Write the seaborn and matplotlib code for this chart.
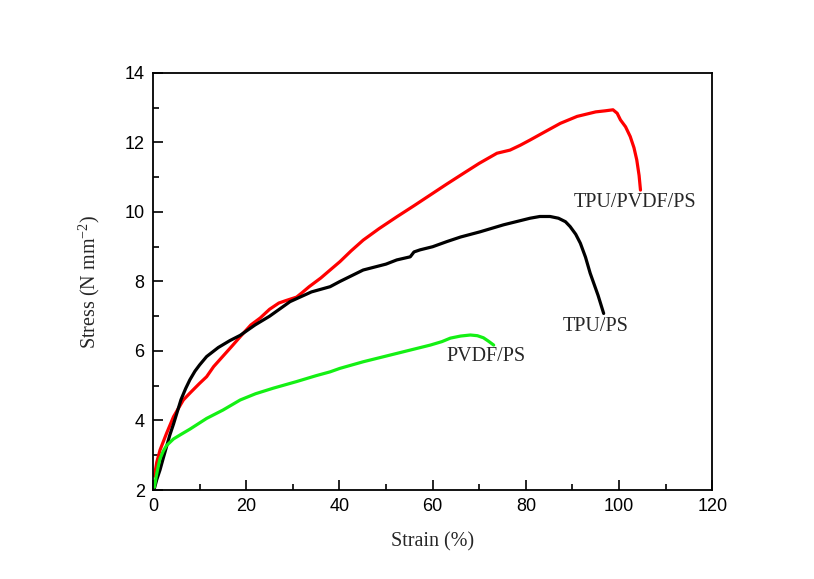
import matplotlib
matplotlib.use("Agg")
import matplotlib.pyplot as plt
from matplotlib.ticker import MultipleLocator
import seaborn as sns
import pandas as pd

# Strain (%) / Stress (N mm^-2)
red_x = [0.3, 0.8, 1.5, 2.9, 4.4, 6.5, 8, 10, 11.5, 13, 15, 17, 18.7, 21, 23, 25, 27, 28.5, 30.8, 32, 33.5, 36, 38,
         40.1, 42.5, 45.1, 48.5, 52.3, 56, 59.5, 63, 66.6, 70, 73.8, 76.6, 78.8, 80.9, 84, 87.4, 91, 95, 97, 98.7,
         99.6, 100.3, 101.4, 102.4, 103.2, 103.8, 104.3, 104.6]
red_y = [2.4, 2.8, 3.15, 3.63, 4.11, 4.59, 4.8, 5.07, 5.26, 5.55, 5.85, 6.15, 6.41, 6.75, 6.95, 7.2, 7.38, 7.45, 7.55,
         7.68, 7.85, 8.1, 8.33, 8.57, 8.88, 9.19, 9.52, 9.86, 10.18, 10.49, 10.8, 11.11, 11.4, 11.69, 11.78, 11.92,
         12.07, 12.3, 12.55, 12.75, 12.88, 12.91, 12.94, 12.84, 12.65, 12.45, 12.17, 11.85, 11.5, 11.05, 10.63]

black_x = [0.3, 0.8, 1.5, 2.2, 2.9, 3.6, 4.4, 5.2, 6, 7, 7.9, 9, 10, 11.5, 14, 16.5, 18.7, 21.9, 25, 29.4, 34, 38,
           40.1, 45.1, 50, 52.3, 55.2, 56, 57.3, 60, 63.1, 66, 70.2, 75.2, 80.9, 83, 85.2, 87, 88.5, 89.5, 90.7,
           91.7, 92.8, 93.8, 95.5, 96.7]
black_y = [2.05, 2.3, 2.58, 2.92, 3.25, 3.58, 3.9, 4.25, 4.6, 4.92, 5.17, 5.42, 5.6, 5.84, 6.1, 6.3, 6.45, 6.75, 7.0,
           7.42, 7.7, 7.85, 8.0, 8.33, 8.5, 8.62, 8.71, 8.85, 8.91, 9.0, 9.15, 9.28, 9.43, 9.63, 9.82, 9.87, 9.87,
           9.82, 9.72, 9.58, 9.36, 9.1, 8.7, 8.24, 7.6, 7.08]

green_x = [0.3, 0.7, 1.1, 1.5, 2.2, 2.9, 4.4, 6, 7.9, 11.5, 15, 18.7, 22, 25.8, 30.8, 35, 38, 40.1, 45.1, 52.3,
           59.5, 62, 63.8, 66, 68.1, 69.6, 70.9, 72, 73.1]
green_y = [2.08, 2.4, 2.67, 2.9, 3.12, 3.28, 3.47, 3.6, 3.75, 4.06, 4.3, 4.59, 4.77, 4.93, 5.12, 5.29, 5.40, 5.5,
           5.69, 5.93, 6.17, 6.27, 6.37, 6.43, 6.46, 6.44, 6.38, 6.28, 6.17]

labels = ["TPU/PVDF/PS", "TPU/PS", "PVDF/PS"]
label_pos = [(103.5, 10.26), (95.0, 6.7), (71.5, 5.83)]

sns.set_style("white")
plt.rcParams["font.family"] = ["Liberation Sans", "DejaVu Sans"]
plt.rcParams["mathtext.fontset"] = "custom"
plt.rcParams["mathtext.rm"] = "Liberation Serif"
plt.rcParams["mathtext.it"] = "Liberation Serif:italic"

fig = plt.figure(figsize=(8.14, 5.79), dpi=100)
ax = fig.add_axes([0.188, 0.1537, 0.687, 0.7203])

curves = [(red_x, red_y, "#ff0000"), (black_x, black_y, "#000000"), (green_x, green_y, "#14f014")]
for (xs, ys, col), name in zip(curves, labels):
    df = pd.DataFrame({"strain": xs, "stress": ys})
    sns.lineplot(data=df, x="strain", y="stress", color=col, lw=2.3, sort=False, ax=ax)

serif = ["Liberation Serif", "DejaVu Serif"]
for name, (lx, ly) in zip(labels, label_pos):
    ax.text(lx, ly, name, ha="center", va="center", fontsize=14.5, family=serif)

ax.set_xlim(0, 120)
ax.set_ylim(2, 14)
ax.xaxis.set_major_locator(MultipleLocator(20))
ax.xaxis.set_minor_locator(MultipleLocator(10))
ax.yaxis.set_major_locator(MultipleLocator(2))
ax.yaxis.set_minor_locator(MultipleLocator(1))
ax.tick_params(which="both", direction="in", bottom=True, left=True, top=False, right=False,
               labelsize=13, width=1.2, colors="black", pad=6)
ax.tick_params(which="major", length=7)
ax.tick_params(which="minor", length=4)
for sp in ax.spines.values():
    sp.set_linewidth(1.3)
    sp.set_color("black")

ax.set_xlabel("Strain (%)", fontsize=14.5, family=serif, labelpad=12)
ax.set_ylabel("Stress (N mm$^{-2}$)", fontsize=14.5, family=serif, labelpad=16)

fig.savefig("out.png", dpi=100)
